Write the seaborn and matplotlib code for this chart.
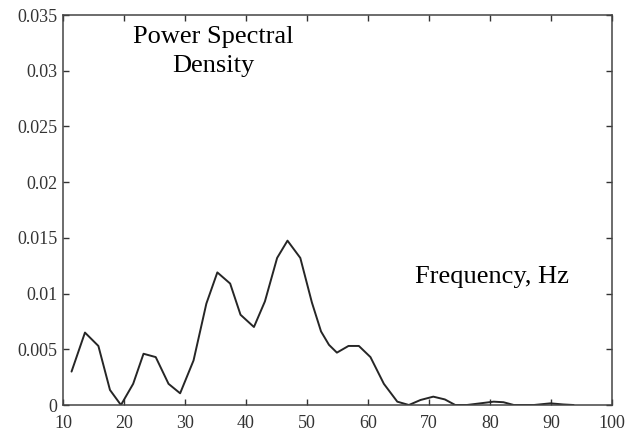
import matplotlib
matplotlib.use("Agg")
import matplotlib.pyplot as plt
import seaborn as sns
import pandas as pd

freq = [11.4, 13.6, 15.8, 17.7, 19.5, 21.5, 23.2, 25.2, 27.3, 29.2, 31.4, 33.5, 35.3,
        37.4, 39.1, 41.3, 43.1, 45.1, 46.8, 48.9, 50.8, 52.3, 53.6, 54.9, 56.8, 58.5,
        60.4, 62.6, 64.8, 66.7, 68.6, 70.7, 72.6, 74.3, 76.2, 78.4, 80.6, 82.2, 83.9,
        87.2, 89.9, 92.0, 93.7]
psd = [0.0030, 0.0065, 0.0053, 0.00135, 0.0, 0.0019, 0.0046, 0.0043, 0.0019, 0.00105,
       0.0040, 0.0091, 0.0119, 0.0109, 0.0081, 0.0070, 0.0093, 0.0132, 0.01475, 0.0132,
       0.0092, 0.0066, 0.0054, 0.0047, 0.0053, 0.0053, 0.0043, 0.0019, 0.0003, 0.0,
       0.00045, 0.00075, 0.0005, 0.0, 0.0, 0.00015, 0.0003, 0.00025, 0.0, 0.0,
       0.00015, 0.00005, 0.0]
x_ticks = [10, 20, 30, 40, 50, 60, 70, 80, 90, 100]
y_ticks = [0, 0.005, 0.01, 0.015, 0.02, 0.025, 0.03, 0.035]
y_labels = ["0", "0.005", "0.01", "0.015", "0.02", "0.025", "0.03", "0.035"]

sns.set_style("white")
plt.rcParams["font.family"] = ["Liberation Serif", "DejaVu Serif"]

df = pd.DataFrame({"freq": freq, "psd": psd})

fig = plt.figure(figsize=(6.37, 4.34), dpi=100)
ax = fig.add_axes([0.0989, 0.0668, 0.8619, 0.8986])
sns.lineplot(data=df, x="freq", y="psd", ax=ax, color="#262626", linewidth=1.4)

ax.set_xlim(10, 100)
ax.set_ylim(0, 0.035)
ax.set_xticks(x_ticks)
ax.set_xticklabels([str(t) for t in x_ticks])
ax.set_yticks(y_ticks)
ax.set_yticklabels(y_labels)
ax.set_xlabel("")
ax.set_ylabel("")
ax.tick_params(direction="in", length=4, width=1, colors="#333333",
               labelcolor="#333333", labelsize=13, top=True, right=True,
               bottom=True, left=True)
ax.tick_params(axis="x", pad=7)
ax.tick_params(axis="y", pad=4)
for s in ax.spines.values():
    s.set_color("#444444")
    s.set_linewidth(1.1)

ax.text(34.6, 0.0317, "Power Spectral\nDensity", ha="center", va="center",
        fontsize=19, linespacing=1.4, color="black")
ax.text(80.3, 0.0115, "Frequency, Hz", ha="center", va="center",
        fontsize=19, color="black")

fig.savefig("out.png", dpi=100)
